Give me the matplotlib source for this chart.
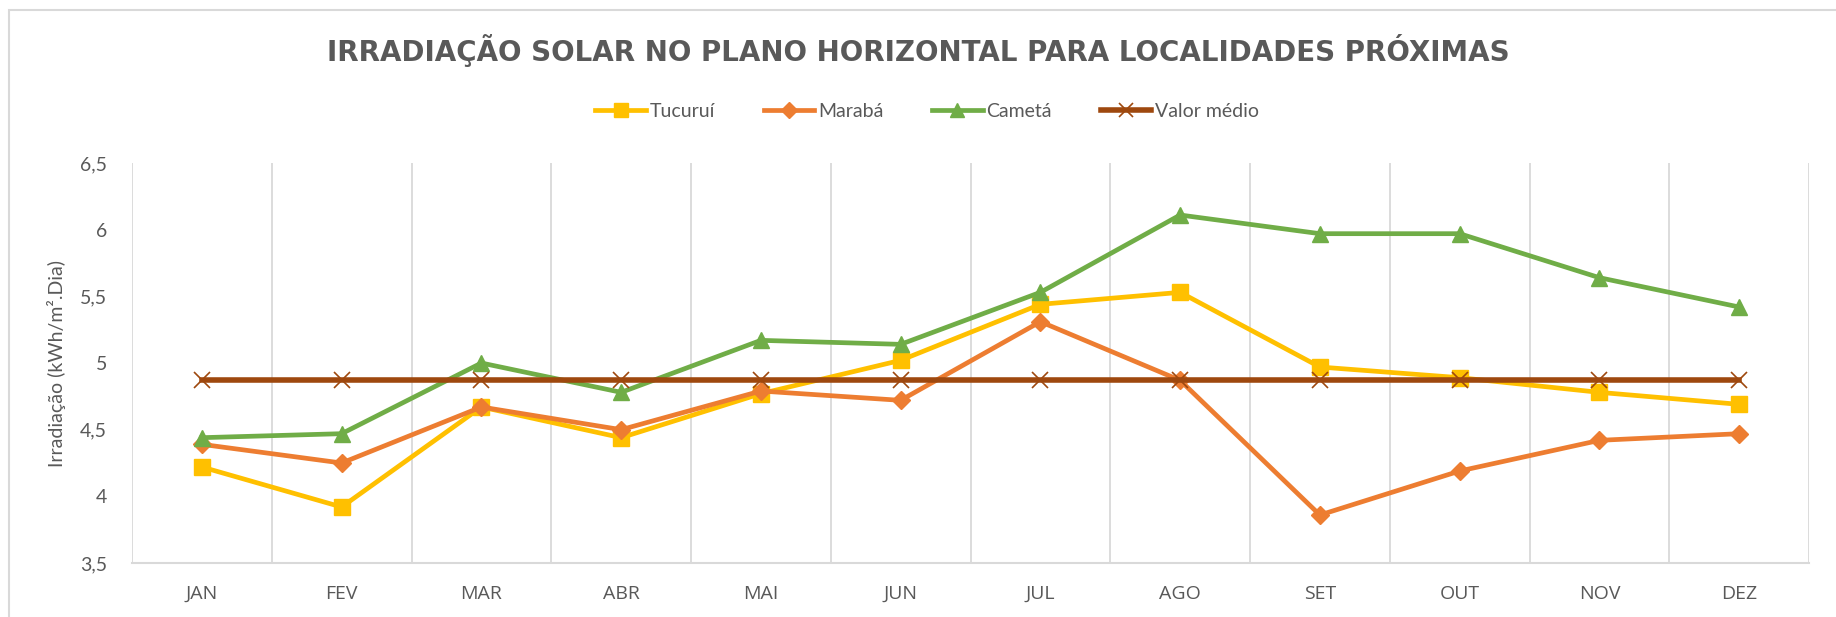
import numpy as np
import matplotlib
matplotlib.use("Agg")
import matplotlib.pyplot as plt
from matplotlib.patches import Rectangle

# ---------------------------------------------------------------------------
# Data (kWh/m².dia)
# ---------------------------------------------------------------------------
meses = ["JAN", "FEV", "MAR", "ABR", "MAI", "JUN",
         "JUL", "AGO", "SET", "OUT", "NOV", "DEZ"]

tucurui = [4.22, 3.92, 4.67, 4.44, 4.77, 5.02, 5.44, 5.53, 4.97, 4.89, 4.78, 4.69]
maraba = [4.39, 4.25, 4.67, 4.50, 4.79, 4.72, 5.31, 4.87, 3.86, 4.19, 4.42, 4.47]
cameta = [4.44, 4.47, 5.00, 4.78, 5.17, 5.14, 5.53, 6.11, 5.97, 5.97, 5.64, 5.42]
valor_medio = [4.87] * 12

y_ticks = [3.5, 4, 4.5, 5, 5.5, 6, 6.5]
y_tick_labels = ["3,5", "4", "4,5", "5", "5,5", "6", "6,5"]

# ---------------------------------------------------------------------------
# Style
# ---------------------------------------------------------------------------
TXT = "#595959"
GRID = "#d9d9d9"
FONT = ["Lato", "DejaVu Sans"]
plt.rcParams["font.family"] = FONT

fig = plt.figure(figsize=(18.36, 6.17), dpi=100)
ax = fig.add_axes([0.0719, 0.0875, 0.9853 - 0.0719, 0.7358 - 0.0875])

x = np.arange(len(meses))

series = [
    ("Tucuruí", tucurui, "#FFC000", "s", 11.5, 3.4),
    ("Marabá", maraba, "#ED7D31", "D", 9.5, 3.4),
    ("Cametá", cameta, "#70AD47", "^", 12, 3.4),
]
for label, vals, color, marker, ms, lw in series:
    ax.plot(x, vals, color=color, lw=lw, marker=marker, markersize=ms,
            markerfacecolor=color, markeredgecolor=color, label=label,
            solid_joinstyle="round", zorder=3)

ax.plot(x, valor_medio, color="#9E480E", lw=4, marker="x", markersize=12,
        markeredgewidth=1.2, markeredgecolor="#9E480E", label="Valor médio",
        zorder=4)

# axes formatting
ax.set_xlim(-0.5, len(meses) - 0.5)
ax.set_ylim(3.5, 6.5)
ax.set_yticks(y_ticks)
ax.set_yticklabels(y_tick_labels)
ax.set_xticks(x)
ax.set_xticklabels(meses)
ax.set_xticks(np.arange(-0.5, len(meses)), minor=True)
ax.grid(True, which="minor", axis="x", color=GRID, lw=1.3)
ax.grid(False, which="major")
ax.tick_params(axis="both", which="both", length=0)
ax.tick_params(axis="y", labelsize=14, labelcolor=TXT, pad=18)
ax.tick_params(axis="x", labelsize=14, labelcolor=TXT, pad=16)
for lbl in ax.get_xticklabels():
    lbl.set_family(["Open Sans", "DejaVu Sans"])
for s in ["top", "right", "left"]:
    ax.spines[s].set_visible(False)
ax.spines["bottom"].set_color(GRID)
ax.spines["bottom"].set_linewidth(1.5)

ax.set_ylabel("Irradiação (kWh/m².Dia)", fontsize=14, color=TXT, labelpad=10)

fig.text(0.5, 0.918,
         "IRRADIAÇÃO SOLAR NO PLANO HORIZONTAL PARA LOCALIDADES PRÓXIMAS",
         ha="center", va="center", fontsize=20, fontweight="bold",
         color=TXT, family=["DejaVu Sans"])

leg = fig.legend(loc="center", bbox_to_anchor=(0.505, 0.82), ncol=4,
                 frameon=False, fontsize=14, handlelength=2.6,
                 columnspacing=2.5, handletextpad=0.2, labelcolor=TXT)
for h in leg.legend_handles:
    h.set_markersize(h.get_markersize() * 0.85)

# outer chart border
fig.patches.append(Rectangle((9 / 1836, -0.2), 2, 1.2 - 10 / 617,
                             transform=fig.transFigure, fill=False,
                             edgecolor=GRID, lw=1.5))

fig.savefig("out.png", dpi=100, facecolor="white")
